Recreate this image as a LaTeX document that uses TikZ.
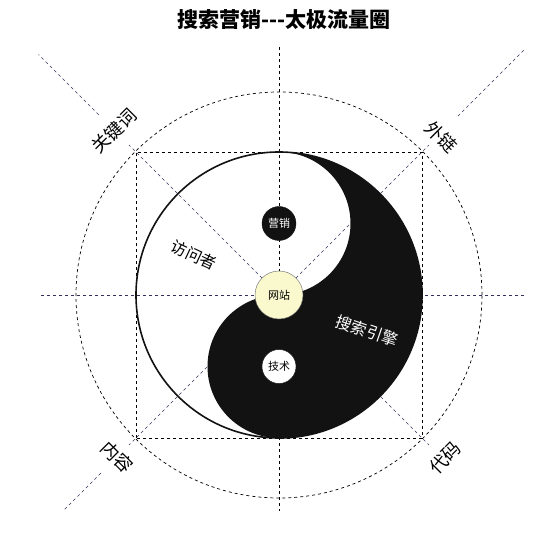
\documentclass[tikz,border=0pt]{standalone}
\usepackage{fontspec}
\newfontfamily\cjk{Noto Sans CJK SC}
\usetikzlibrary{calc, positioning}
\definecolor{axisblue}{RGB}{50,50,90}
\definecolor{ink}{RGB}{18,18,18}
\definecolor{hub}{RGB}{250,248,205}
\def\R{143}
\def\hr{71.5}
\tikzstyle{guide}=[dashed, line width=0.7pt, black]
\tikzstyle{axis}=[dashed, line width=0.6pt, axisblue]
\tikzstyle{dot}=[circle, draw=ink, inner sep=0pt, minimum size=34pt, font=\cjk\fontsize{11}{11}\selectfont]
\tikzstyle{corner label}=[font=\cjk\fontsize{18}{18}\selectfont]
\tikzstyle{fish label}=[font=\cjk\fontsize{16}{16}\selectfont]

\begin{document}
\begin{tikzpicture}[x=1pt, y=1pt]
	\useasboundingbox (-279,-240) rectangle (272,295);
	\coordinate (O) at (0,0);
	\coordinate (N) at (0,248);
	\coordinate (S) at (0,-216);
	\coordinate (W) at (-238,0);
	\coordinate (E) at (246,0);
	\coordinate (C-1) at (135:212);
	\coordinate (C-2) at (45:212);
	\coordinate (C-3) at (-135:212);
	\coordinate (C-4) at (-45:212);
	\coordinate (D-1) at (135:255);
	\coordinate (E-1) at (135:340);
	\coordinate (D-2) at (45:253);
	\coordinate (E-2) at (45:346);
	\coordinate (D-3) at (-135:252);
	\coordinate (E-3) at (-135:305);
	\draw[guide] (O) circle (203);
	\draw[guide] (-\R,-\R) rectangle (\R,\R);
	\path
	(N) edge[guide] (S)
	(W) edge[axis, line width=0.8pt] (E)
	(O) edge[axis] (C-1)
	(O) edge[axis] (C-2)
	(O) edge[axis] (C-3)
	(O) edge[axis] (C-4)
	(D-1) edge[axis] (E-1)
	(D-2) edge[axis] (E-2)
	(D-3) edge[axis] (E-3);
	\fill[ink] (0,\R) arc[start angle=90, end angle=-90, radius=\R]
		arc[start angle=-90, end angle=-270, radius=\hr]
		arc[start angle=-90, end angle=90, radius=\hr] -- cycle;
	\draw[ink, line width=1.6pt] (O) circle (\R);
	\node[dot, fill=ink, text=white] (M) at (0,\hr) {营销};
	\node[dot, fill=white] (T) at (0,-\hr) {技术};
	\node[dot, fill=hub, draw=black!60, minimum size=48pt] (H) at (O) {网站};
	\node[fish label, rotate=-25] (V) at (-85,40) {访问者};
	\node[fish label, text=white, rotate=-19] (SE) at (88,-36) {搜索引擎};
	\node[corner label, rotate=45] (K) at (-165,164) {关键词};
	\node[corner label, rotate=-45] (L) at (162,158) {外链};
	\node[corner label, rotate=-45] (Q) at (-162,-162) {内容};
	\node[corner label, rotate=45] (X) at (166,-163) {代码};
	\node[font=\cjk\bfseries\fontsize{21}{21}\selectfont] (title) at (5,275) {搜索营销-{}-{}-太极流量圈};
\end{tikzpicture}
\end{document}
